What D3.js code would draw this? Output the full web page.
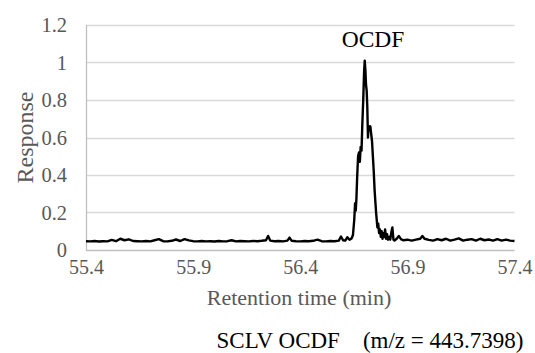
<!DOCTYPE html>
<html>
<head>
<meta charset="utf-8">
<script src="https://cdn.jsdelivr.net/npm/d3@7"></script>
<style>
body{margin:0;background:#fff;}
svg{display:block;font-family:"Liberation Serif","Times New Roman",serif;}
</style>
</head>
<body>
<svg id="chart" width="535" height="353"></svg>
<script>
// retention time (min) and response
var retentionTime = [
 55.40,55.42,55.44,55.46,55.48,55.50,55.52,55.54,55.56,55.58,
 55.60,55.62,55.64,55.66,55.68,55.70,55.72,55.74,55.76,55.78,
 55.80,55.82,55.84,55.86,55.88,55.90,55.92,55.94,55.96,55.98,
 56.00,56.02,56.04,56.06,56.08,56.10,56.12,56.14,56.16,56.18,
 56.20,56.22,56.24,56.25,56.26,56.28,56.30,56.32,56.34,56.35,
 56.36,56.38,56.40,56.42,56.44,56.46,56.48,56.50,56.52,56.54,
 56.56,56.58,56.59,56.60,56.61,56.62,56.63,56.64,
 56.646,56.652,56.656,56.659,56.662,56.666,56.670,56.674,56.678,56.682,
 56.686,56.690,56.694,56.698,56.701,56.704,56.707,56.710,56.713,56.716,
 56.719,56.723,56.727,56.731,56.735,56.739,56.743,56.747,56.751,56.754,
 56.757,56.760,56.764,56.768,56.772,56.776,56.780,56.784,56.788,56.792,
 56.796,56.800,56.805,56.810,56.815,56.820,56.826,56.830,56.835,56.840,
 56.85,56.86,56.87,56.88,56.90,56.92,56.94,56.96,56.97,56.98,
 57.00,57.02,57.04,57.06,57.08,57.10,57.12,57.14,57.16,57.18,
 57.20,57.22,57.24,57.26,57.28,57.30,57.32,57.34,57.36,57.38,57.40
];
var response = [
 0.047,0.046,0.048,0.045,0.047,0.046,0.054,0.047,0.060,0.052,
 0.057,0.048,0.047,0.046,0.048,0.046,0.052,0.058,0.047,0.046,
 0.049,0.056,0.048,0.058,0.051,0.047,0.046,0.048,0.046,0.047,
 0.045,0.048,0.046,0.047,0.052,0.046,0.048,0.047,0.046,0.048,
 0.047,0.049,0.052,0.075,0.050,0.047,0.048,0.046,0.050,0.066,
 0.049,0.047,0.046,0.048,0.047,0.049,0.055,0.047,0.046,0.048,
 0.047,0.050,0.072,0.052,0.050,0.068,0.055,0.062,
 0.080,0.160,0.250,0.210,0.270,0.400,0.500,0.520,0.470,0.550,
 0.530,0.680,0.800,0.950,1.010,0.960,0.880,0.850,0.760,0.600,
 0.660,0.650,0.660,0.620,0.580,0.500,0.420,0.320,0.250,0.200,
 0.160,0.120,0.140,0.090,0.110,0.070,0.100,0.060,0.090,0.070,
 0.110,0.060,0.085,0.055,0.070,0.055,0.100,0.120,0.055,0.050,
 0.060,0.075,0.058,0.052,0.055,0.050,0.055,0.060,0.075,0.060,
 0.054,0.050,0.058,0.052,0.060,0.050,0.055,0.062,0.050,0.055,
 0.058,0.050,0.060,0.052,0.056,0.050,0.058,0.050,0.055,0.050,0.048
];
var xTicks = [55.4, 55.9, 56.4, 56.9, 57.4];
var yTicks = [0, 0.2, 0.4, 0.6, 0.8, 1, 1.2];
var peakLabel = "OCDF";
var xTitle = "Retention time (min)";
var yTitle = "Response";
var caption = "SCLV OCDF\u00a0\u00a0\u00a0\u00a0(m/z = 443.7398)";

var svg = d3.select("#chart");
var plotLeft = 86, plotRight = 514.5, plotTop = 25, plotBottom = 250;

var x = d3.scaleLinear().domain([55.4, 57.4]).range([plotLeft, plotRight]);
var y = d3.scaleLinear().domain([0, 1.2]).range([plotBottom, plotTop]);

// horizontal gridlines
svg.append("g").selectAll("line").data(yTicks.slice(1)).join("line")
	.attr("x1", plotLeft).attr("x2", plotRight)
	.attr("y1", function(d){ return Math.round(y(d)) + 0.5; })
	.attr("y2", function(d){ return Math.round(y(d)) + 0.5; })
	.style("stroke", "#d9d9d9").style("stroke-width", "1.3px");

// axes lines
svg.append("line").attr("x1", plotLeft + 0.5).attr("x2", plotLeft + 0.5).attr("y1", plotTop).attr("y2", plotBottom)
	.style("stroke", "#bfbfbf").style("stroke-width", "1.3px");
svg.append("line").attr("x1", plotLeft).attr("x2", plotRight).attr("y1", plotBottom + 0.5).attr("y2", plotBottom + 0.5)
	.style("stroke", "#bfbfbf").style("stroke-width", "1.3px");

// tick labels
var yAxis = d3.axisLeft(y).tickValues(yTicks).tickSize(0).tickPadding(19).tickFormat(d3.format("~g"));
var gy = svg.append("g").attr("transform", "translate(" + plotLeft + ",0)").call(yAxis);
gy.select(".domain").remove();
gy.selectAll("text").style("font-size", "20.5px").style("fill", "#595959").style("font-family", "Liberation Serif");

var xAxis = d3.axisBottom(x).tickValues(xTicks).tickSize(0).tickPadding(10).tickFormat(d3.format(".1f"));
var gx = svg.append("g").attr("transform", "translate(0," + plotBottom + ")").call(xAxis);
gx.select(".domain").remove();
gx.selectAll("text").style("font-size", "20px").style("fill", "#595959").style("font-family", "Liberation Serif");

// trace
var line = d3.line().x(function(d, i){ return x(retentionTime[i]); }).y(function(d){ return y(d); });
svg.append("path").datum(response).attr("d", line)
	.style("fill", "none").style("stroke", "#000").style("stroke-width", "2.4px")
	.style("stroke-linejoin", "round");

// texts
svg.append("text").attr("x", 373).attr("y", 47).attr("text-anchor", "middle")
	.style("font-size", "23.5px").style("fill", "#000").text(peakLabel);
svg.append("text").attr("x", 299).attr("y", 305).attr("text-anchor", "middle")
	.style("font-size", "22px").style("fill", "#595959").text(xTitle);
svg.append("text").attr("transform", "translate(33," + (plotTop + plotBottom) / 2 + ") rotate(-90)")
	.attr("text-anchor", "middle").style("font-size", "24px").style("fill", "#595959").text(yTitle);
svg.append("text").attr("x", 370).attr("y", 348).attr("text-anchor", "middle")
	.style("font-size", "23px").style("fill", "#000").text(caption);
</script>
</body>
</html>
